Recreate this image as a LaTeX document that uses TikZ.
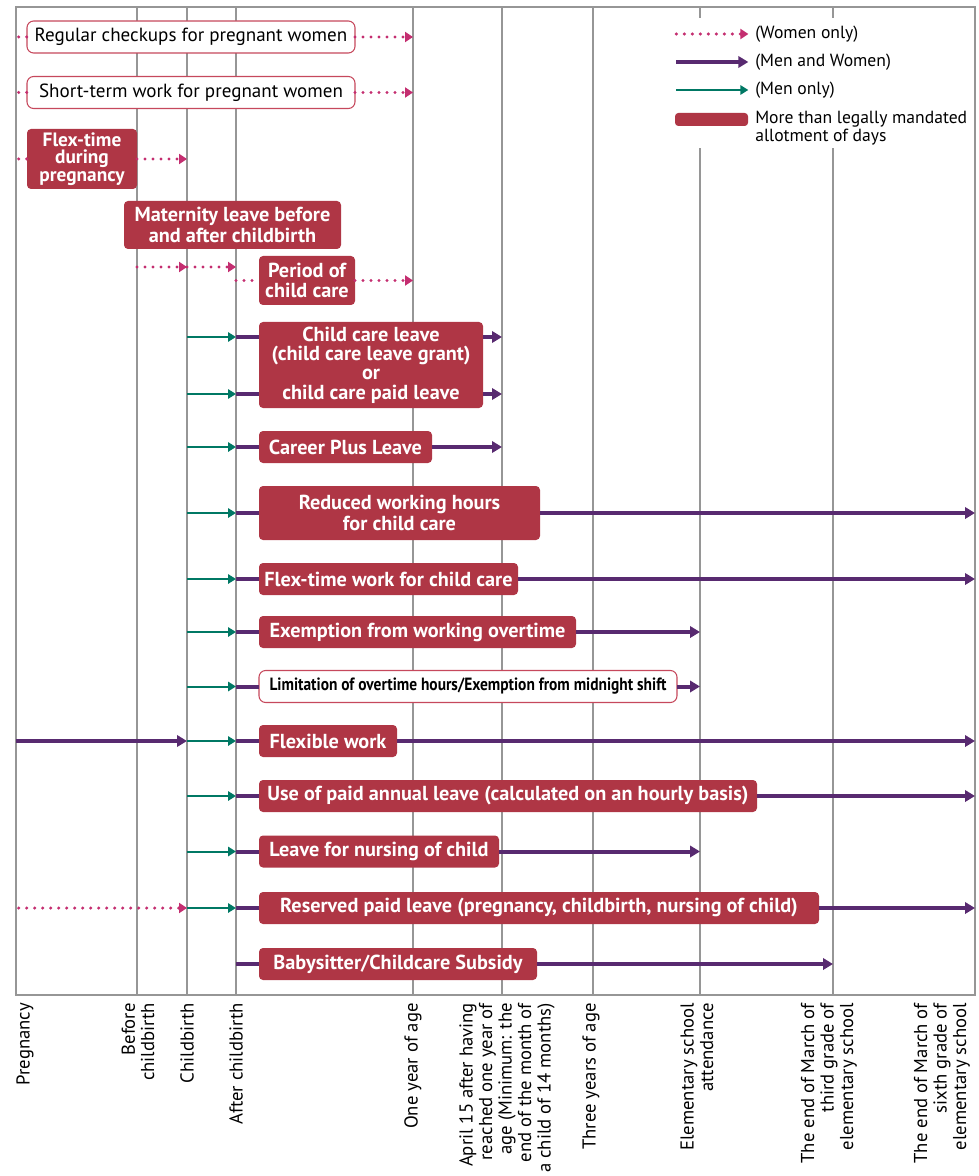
\documentclass[tikz,border=0pt]{standalone}
\usepackage{fontspec}
\setmainfont{PT Sans}
\newfontfamily\narrowfont[FakeStretch=0.87]{PT Sans}
\usepackage{xcolor}
\usepackage{tikz}
\usetikzlibrary{arrows.meta}
\definecolor{boxred}{RGB}{175,54,69}
\definecolor{boxedge}{RGB}{198,72,92}
\definecolor{both}{RGB}{88,42,112}
\definecolor{menteal}{RGB}{0,120,100}
\definecolor{women}{RGB}{196,46,112}
\definecolor{rule}{RGB}{150,150,150}
\tikzstyle{leavebox} = [rectangle, rounded corners=3pt, fill=boxred, text=white, font=\bfseries\fontsize{15.2}{16}\selectfont, align=center, minimum height=24pt, inner sep=2pt, outer sep=0pt, anchor=west]
\tikzstyle{notebox} = [rectangle, rounded corners=5pt, draw=boxedge, line width=0.8pt, fill=white, text=black, font=\fontsize{14.3}{16}\selectfont, minimum height=24pt, inner sep=2pt, outer sep=0pt, anchor=west]
\tikzstyle{bothline} = [both, line width=3pt]
\tikzstyle{botharrow} = [bothline, -{Triangle[length=7.5pt,width=8.5pt]}]
\tikzstyle{menarrow} = [menteal, line width=1.5pt, -{Triangle[length=6pt,width=7pt]}]
\tikzstyle{womenline} = [women, line width=2.5pt, line cap=round, dash pattern=on 0pt off 6pt]
\tikzstyle{womenarrow} = [womenline, -{Triangle[length=6pt,width=7.5pt]}]
\tikzstyle{gridline} = [rule, line width=0.8pt]
\tikzstyle{legendtext} = [anchor=west, inner sep=0pt, font=\fontsize{13.2}{13.5}\selectfont, align=left]
\tikzstyle{agelabel} = [rotate=90, anchor=east, align=right, inner sep=0pt, font=\fontsize{14}{14.6}\selectfont]

\begin{document}
\begin{tikzpicture}[x=0.75pt, y=-0.75pt]
	\useasboundingbox (0,0) rectangle (978,1176);
	
	% Timeline
	\coordinate (top) at (0,7);
	\coordinate (tPreg) at (16,995);
	\coordinate (tBefore) at (137,995);
	\coordinate (tBirth) at (187,995);
	\coordinate (tAfter) at (236,995);
	\coordinate (tOne) at (413,995);
	\coordinate (tApril) at (502,995);
	\coordinate (tThree) at (593,995);
	\coordinate (tElem) at (700,995);
	\coordinate (tThird) at (833,995);
	\coordinate (tSixth) at (975,995);
	\draw [gridline] (tPreg |- top) rectangle (tSixth);
	\foreach \t in {tBefore,tBirth,tAfter,tOne,tApril,tThree,tElem,tThird}
		\draw [gridline] (\t) -- (\t |- top);
	
	% Legend
	\fill [white] (660,18) rectangle (972,148);
	\node (legWomen) [legendtext] at (755,34) {(Women only)};
	\node (legBoth) [legendtext] at (755,62) {(Men and Women)};
	\node (legMen) [legendtext] at (755,90) {(Men only)};
	\node (legMore) [legendtext, anchor=north west] at (755,111) {More than legally mandated\\allotment of days};
	\node (legRed) [rectangle, rounded corners=2.5pt, fill=boxred, minimum width=54.75pt, minimum height=9.75pt, inner sep=0pt] at (711.5,119.5) {};
	\draw [womenarrow] ([xshift=-59pt]legWomen.west) -- ([xshift=-5pt]legWomen.west);
	\draw [botharrow] ([xshift=-59pt]legBoth.west) -- ([xshift=-5pt]legBoth.west);
	\draw [menarrow] ([xshift=-59pt]legMen.west) -- ([xshift=-5pt]legMen.west);
	
	% Nodes
	\node (checkups) [notebox, minimum width=246pt] at (27,37) {Regular checkups for pregnant women};
	\node (shortwork) [notebox, minimum width=246pt] at (27,92.5) {Short-term work for pregnant women};
	\node (flexpreg) [leavebox, minimum width=82.5pt, minimum height=45pt, font=\bfseries\fontsize{14.5}{13.2}\selectfont] at (27,159) {Flex-time\\during\\pregnancy};
	\node (maternity) [leavebox, minimum width=162.75pt, minimum height=36pt, font=\bfseries\fontsize{15.2}{15.75}\selectfont] at (124,225) {Maternity leave before\\and after childbirth};
	\node (periodcare) [leavebox, minimum width=72pt, minimum height=36.75pt, font=\bfseries\fontsize{15.2}{15}\selectfont] at (259,280.5) {Period of\\child care};
	\node (childleave) [leavebox, minimum width=168pt, minimum height=64.5pt, font=\bfseries\fontsize{15.2}{14.4}\selectfont] at (259,365) {Child care leave\\(child care leave grant)\\or\\child care paid leave};
	\node (careerplus) [leavebox, minimum width=129.75pt] at (259,447) {Career Plus Leave};
	\node (reduced) [leavebox, minimum width=210.75pt, minimum height=40.5pt] at (259,513) {Reduced working hours\\for child care};
	\node (flexchild) [leavebox, minimum width=194.25pt] at (259,579) {Flex-time work for child care};
	\node (overtime) [leavebox, minimum width=237.75pt] at (259,632) {Exemption from working overtime};
	\node (midnight) [notebox, minimum width=313.5pt, font=\narrowfont\bfseries\fontsize{13.3}{15}\selectfont] at (259,686.5) {Limitation of overtime hours/Exemption from midnight shift};
	\node (flexwork) [leavebox, minimum width=103.5pt] at (259,741) {Flexible work};
	\node (hourly) [leavebox, minimum width=373.5pt] at (259,796) {Use of paid annual leave (calculated on an hourly basis)};
	\node (nursing) [leavebox, minimum width=180pt] at (259,851.5) {Leave for nursing of child};
	\node (reserved) [leavebox, minimum width=420pt] at (259,908) {Reserved paid leave (pregnancy, childbirth, nursing of child)};
	\node (sitter) [leavebox, minimum width=208.5pt] at (259,964) {Babysitter/Childcare Subsidy};
	\coordinate (matRow) at (0,267);
	\coordinate (cclA) at (0,337);
	\coordinate (cclB) at (0,394);
	
	% Arrows
	\foreach \n in {checkups,shortwork,flexpreg} \draw [womenline] ([xshift=2pt]\n.west -| tPreg) -- (\n.west);
	\draw [womenarrow] (checkups.east) -- (checkups.east -| tOne);
	\draw [womenarrow] (shortwork.east) -- (shortwork.east -| tOne);
	\draw [womenarrow] (flexpreg.east) -- (flexpreg.east -| tBirth);
	\draw [womenarrow] (matRow -| tBefore) -- (matRow -| tBirth);
	\draw [womenarrow] (matRow -| tBirth) -- (matRow -| tAfter);
	\draw [womenline] (periodcare.west -| tAfter) -- (periodcare.west);
	\draw [womenarrow] (periodcare.east) -- (periodcare.east -| tOne);
	\foreach \r in {cclA,cclB} {
		\draw [menarrow] (\r -| tBirth) -- (\r -| tAfter);
		\draw [bothline] (\r -| tAfter) -- (\r -| childleave.west);
		\draw [botharrow] (\r -| childleave.east) -- (\r -| tApril);
	}
	\foreach \n/\t in {careerplus/tApril, reduced/tSixth, flexchild/tSixth, overtime/tElem, midnight/tElem, flexwork/tSixth, hourly/tSixth, nursing/tElem, reserved/tSixth} {
		\draw [menarrow] (\n.west -| tBirth) -- (\n.west -| tAfter);
		\draw [bothline] (\n.west -| tAfter) -- (\n.west);
		\draw [botharrow] (\n.east) -- (\n.east -| \t);
	}
	\draw [botharrow] (flexwork.west -| tPreg) -- (flexwork.west -| tBirth);
	\draw [womenarrow] ([xshift=2pt]reserved.west -| tPreg) -- (reserved.west -| tBirth);
	\draw [bothline] (sitter.west -| tAfter) -- (sitter.west);
	\draw [botharrow] (sitter.east) -- (sitter.east -| tThird);
	
	% Ages
	\node (aPreg) [agelabel] at (25,1003) {Pregnancy};
	\node (aBefore) [agelabel] at (138,1003) {Before\\childbirth};
	\node (aBirth) [agelabel] at (187,1003) {Childbirth};
	\node (aAfter) [agelabel] at (236,1003) {After childbirth};
	\node (aOne) [agelabel] at (413,1003) {One year of age};
	\node (aApril) [agelabel] at (507,1003) {April 15 after having\\reached one year of\\age (Minimum: the\\end of the month of\\a child of 14 months)};
	\node (aThree) [agelabel] at (591,1003) {Three years of age};
	\node (aElem) [agelabel] at (697,1003) {Elementary school\\attendance};
	\node (aThird) [agelabel] at (829,1003) {The end of March of\\third grade of\\elementary school};
	\node (aSixth) [agelabel] at (942,1003) {The end of March of\\sixth grade of\\elementary school};
\end{tikzpicture}
\end{document}
